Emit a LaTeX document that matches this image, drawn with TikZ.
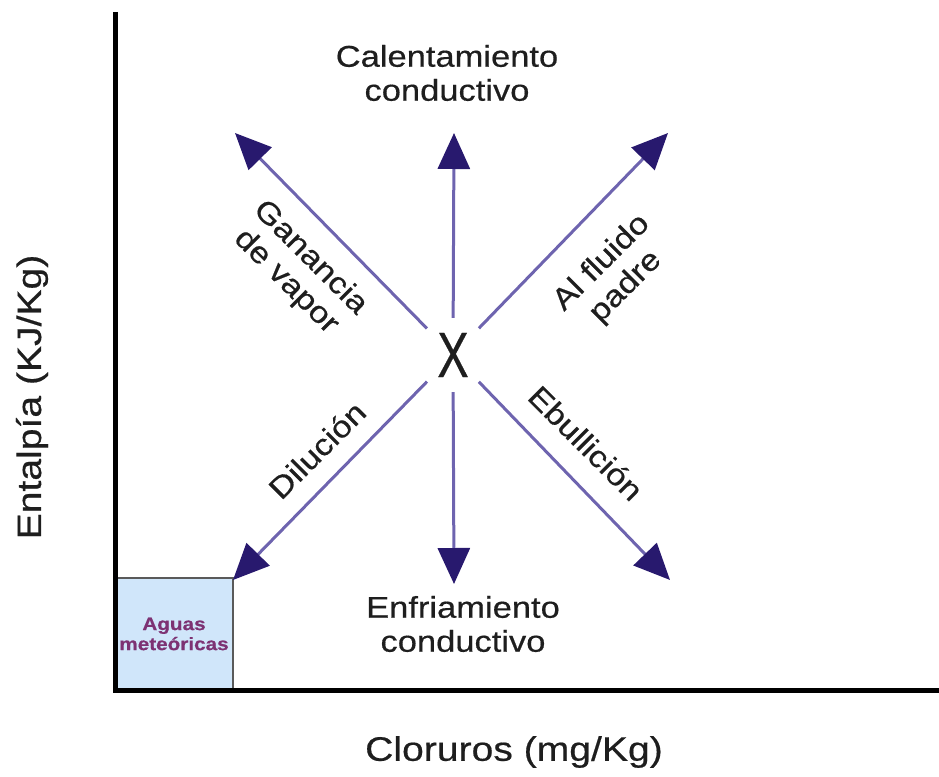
\documentclass[tikz,border=0pt]{standalone}
\usepackage{fontspec}
\setmainfont{Liberation Sans}[FakeStretch=1.15,FakeBold=0.5]
\usetikzlibrary{arrows.meta}
\definecolor{ink}{RGB}{30,30,30}
\definecolor{flowline}{RGB}{110,100,175}
\definecolor{flowhead}{RGB}{40,25,110}
\definecolor{meteo}{RGB}{208,230,250}
\definecolor{meteoline}{RGB}{90,90,90}
\definecolor{meteotext}{RGB}{125,50,115}
\tikzset{
  axis/.style={line width=5pt, draw=black, line join=miter},
  flow/.style={draw=flowline, line width=3pt,
               -{Triangle[length=36pt,width=32pt,color=flowhead]}},
  lbl/.style={font=\fontsize{30}{34}\selectfont, text=ink, align=center, inner sep=0pt},
  axlbl/.style={font=\fontsize{34}{38}\selectfont, text=ink, inner sep=0pt},
  meteobox/.style={draw=meteoline, fill=meteo, line width=1.5pt,
                   minimum width=118pt, minimum height=112pt, inner sep=0pt, align=center,
                   font=\fontsize{18}{20}\selectfont\bfseries, text=meteotext},
}

\begin{document}
\begin{tikzpicture}[x=1pt,y=-1pt]
  \useasboundingbox (0,0) rectangle (939,776);

  % meteoric water box, then the axes over it
  \node[meteobox] (aguas) at (174,634) {Aguas\\meteóricas};
  \draw[axis] (115,12) -- (115,690) -- (939,690);

  % axis labels
  \node[axlbl, rotate=90] (ylab) at (32,397) {Entalpía (KJ/Kg)};
  \node[axlbl] (xlab) at (514,752) {Cloruros (mg/Kg)};

  % starting point
  \node[circle, minimum size=74pt, inner sep=0pt, text=ink] (x) at (453,355)
    {\fontsize{64}{64}\selectfont\scalebox{0.64}[1]{X}};

  % arrow tips
  \coordinate (up) at (454,133);
  \coordinate (dn) at (454,584);
  \coordinate (nw) at (235,133);
  \coordinate (ne) at (668,133);
  \coordinate (sw) at (233,580);
  \coordinate (se) at (670,580);

  \draw[flow] (x) -- (up);
  \draw[flow] (x) -- (dn);
  \draw[flow] (x) -- (nw);
  \draw[flow] (x) -- (ne);
  \draw[flow] (x) -- (sw);
  \draw[flow] (x) -- (se);

  % process labels
  \node[lbl] (calent) at (447,73) {Calentamiento\\conductivo};
  \node[lbl] (enfri) at (463,624) {Enfriamiento\\conductivo};
  \node[lbl, rotate=-45] (ganan) at (298,270) {Ganancia\\de vapor};
  \node[lbl, rotate=45] (fluido) at (614,275) {Al fluido\\padre};
  \node[lbl, rotate=45] (dilu) at (317,450) {Dilución};
  \node[lbl, rotate=-45] (ebul) at (586,443) {Ebullición};
\end{tikzpicture}
\end{document}
